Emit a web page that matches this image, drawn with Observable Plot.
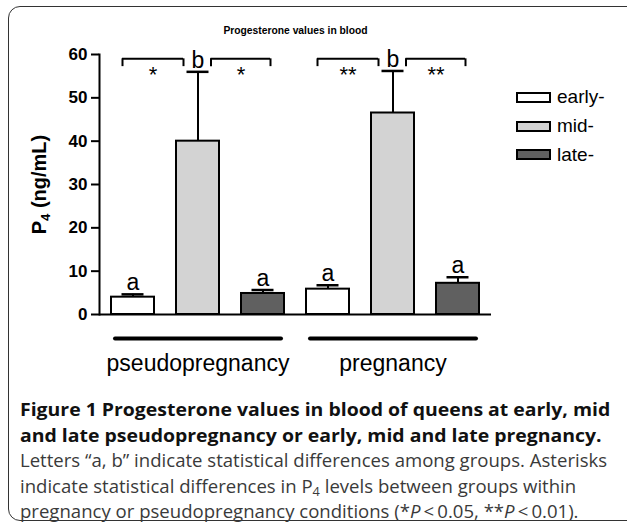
<!DOCTYPE html>
<html><head><meta charset="utf-8">
<script src="https://cdn.jsdelivr.net/npm/d3@7"></script>
<script src="https://cdn.jsdelivr.net/npm/@observablehq/plot@0.6"></script>
<style>
html,body{margin:0;padding:0;background:#fff;}
body{width:627px;height:526px;position:relative;overflow:hidden;}
#frame{position:absolute;left:8px;top:6px;width:660px;height:515px;border:1.5px solid #333;border-radius:12px;box-sizing:border-box;}
#chart{position:absolute;left:0;top:0;}
#legend{position:absolute;left:516px;top:83px;font-family:"Liberation Sans",Arial,sans-serif;font-size:19px;color:#000;}
#legend .item{display:flex;align-items:center;height:28.8px;}
#legend .sw{width:35px;height:11px;border:2px solid #000;box-sizing:border-box;margin-right:6px;}
#caption{position:absolute;left:20px;top:397px;font-family:"Open Sans",sans-serif;font-size:17.5px;line-height:25.5px;white-space:nowrap;color:#3a3a3a;}
#caption .ln{display:block;height:25.5px;transform-origin:0 50%;}
#caption .bold{font-weight:bold;color:#111;transform:scaleX(1.11);}
#caption .reg{transform:scaleX(1.061);}
#caption sub{font-size:12px;line-height:0;vertical-align:baseline;position:relative;top:0.3em;}
</style>
</head><body>
<div id="frame"></div>
<div id="chart"></div>
<div id="legend"></div>
<div id="caption"></div>
<script>
// ---- data ----
const title = "Progesterone values in blood";
const groups = ["pseudopregnancy", "pregnancy"];
const stages = ["early", "mid", "late"];
const stageLabels = ["early-", "mid-", "late-"];
const stageFills = ["#ffffff", "#d3d3d3", "#606060"];
const pseudoMeans = [4.0, 40.0, 4.85];
const pseudoErrs = [0.65, 16.0, 0.8];
const pregMeans = [5.85, 46.5, 7.2];
const pregErrs = [0.9, 9.7, 1.4];
const pseudoLetters = ["a", "b", "a"];
const pregLetters = ["a", "b", "a"];
const yTicks = [0, 10, 20, 30, 40, 50, 60];
const brackets = [
  {group: "pseudopregnancy", from: "early", to: "mid", label: "*"},
  {group: "pseudopregnancy", from: "mid", to: "late", label: "*"},
  {group: "pregnancy", from: "early", to: "mid", label: "**"},
  {group: "pregnancy", from: "mid", to: "late", label: "**"}
];

// ---- build table ----
const key = (g, s) => g + "|" + s;
const means = [pseudoMeans, pregMeans], errs = [pseudoErrs, pregErrs], letters = [pseudoLetters, pregLetters];
const rows = [];
groups.forEach((g, gi) => stages.forEach((s, si) => rows.push({
  group: g, stage: s, key: key(g, s), value: means[gi][si], top: means[gi][si] + errs[gi][si], letter: letters[gi][si]
})));
const brL = brackets.filter(b => b.from === "early");
const brR = brackets.filter(b => b.from === "mid");
const bracketY = 59, legY = 57.2;
const yLabel = "P4 (ng/mL)";

const chart = Plot.plot({
  width: 627, height: 390,
  marginLeft: 99, marginRight: 136, marginTop: 54, marginBottom: 76,
  style: {fontFamily: "'Liberation Sans', Arial, sans-serif", background: "transparent", color: "#000", overflow: "visible"},
  x: {domain: rows.map(d => d.key), paddingInner: 0.34, paddingOuter: 0.17, axis: null},
  y: {domain: [0, 60], axis: null},
  color: {domain: stages, range: stageFills},
  marks: [
    Plot.axisY({ticks: yTicks, tickSize: 8, tickPadding: 4, fontSize: 17, fontWeight: "bold", strokeWidth: 2, label: null}),
    Plot.frame({anchor: "left", strokeWidth: 2}),
    Plot.barY(rows, {x: "key", y: "value", fill: "stage", stroke: "#000", strokeWidth: 2}),
    Plot.ruleX(rows, {x: "key", y1: "value", y2: "top", strokeWidth: 2}),
    Plot.tickY(rows, {x: "key", y: "top", strokeWidth: 2.5, insetLeft: 10.5, insetRight: 10.5}),
    Plot.text(rows, {x: "key", y: "top", text: "letter", lineAnchor: "bottom", dy: -4, fontSize: 23}),
    Plot.ruleY([0], {strokeWidth: 2}),
    // significance brackets
    Plot.ruleY(brL, {x1: d => key(d.group, d.from), x2: d => key(d.group, d.to), y: bracketY, strokeWidth: 2, insetLeft: 11, insetRight: 36}),
    Plot.ruleY(brR, {x1: d => key(d.group, d.from), x2: d => key(d.group, d.to), y: bracketY, strokeWidth: 2, insetLeft: 34.5, insetRight: 14}),
    Plot.ruleX(brL, {x: d => key(d.group, d.from), y1: bracketY, y2: legY, dx: -10.5, strokeWidth: 2}),
    Plot.ruleX(brL, {x: d => key(d.group, d.to), y1: bracketY, y2: legY, dx: -14.5, strokeWidth: 2}),
    Plot.ruleX(brR, {x: d => key(d.group, d.from), y1: bracketY, y2: legY, dx: 13, strokeWidth: 2}),
    Plot.ruleX(brR, {x: d => key(d.group, d.to), y1: bracketY, y2: legY, dx: 7.5, strokeWidth: 2}),
    Plot.text(brL, {x: d => key(d.group, d.from), y: bracketY, text: "label", dx: 20, dy: 23, lineAnchor: "bottom", fontSize: 22}),
    Plot.text(brR, {x: d => key(d.group, d.from), y: bracketY, text: "label", dx: 43, dy: 23, lineAnchor: "bottom", fontSize: 22}),
    // group underline + labels
    Plot.ruleY(groups, {x1: g => key(g, "early"), x2: g => key(g, "late"), y: 0, dy: 24, strokeWidth: 4, strokeLinecap: "round", insetLeft: 4, insetRight: 3}),
    Plot.text(groups, {x: g => key(g, "mid"), y: 0, dy: 56, text: d => d, lineAnchor: "bottom", fontSize: 23}),
    // title + y label
    Plot.text([title], {frameAnchor: "top", dy: -24, text: d => d, fontWeight: "bold", fontSize: 10.3, lineAnchor: "middle"}),
    Plot.text([yLabel], {frameAnchor: "left", dx: -60, rotate: -90, text: d => d, fontWeight: "bold", fontSize: 20, lineAnchor: "middle", textAnchor: "middle"})
  ]
});
document.getElementById("chart").appendChild(chart);

// subscript in y label
chart.querySelectorAll("text").forEach(t => {
  if (t.textContent === yLabel) {
    t.textContent = "";
    t.setAttribute("text-anchor", "middle");
    const ns = "http://www.w3.org/2000/svg";
    const a = document.createElementNS(ns, "tspan"); a.textContent = "P"; t.appendChild(a);
    const b = document.createElementNS(ns, "tspan"); b.textContent = "4"; b.setAttribute("font-size", "13"); b.setAttribute("baseline-shift", "-4"); t.appendChild(b);
    const c = document.createElementNS(ns, "tspan"); c.textContent = " (ng/mL)"; t.appendChild(c);
  }
});

// legend
const lg = document.getElementById("legend");
stages.forEach((s, i) => {
  const it = document.createElement("div"); it.className = "item";
  const sw = document.createElement("div"); sw.className = "sw"; sw.style.background = stageFills[i];
  const tx = document.createElement("span"); tx.textContent = stageLabels[i];
  it.appendChild(sw); it.appendChild(tx); lg.appendChild(it);
});

// caption
document.getElementById("caption").innerHTML =
  '<span class="ln bold">Figure 1 Progesterone values in blood of queens at early, mid</span>' +
  '<span class="ln bold">and late pseudopregnancy or early, mid and late pregnancy.</span>' +
  '<span class="ln reg">Letters \u201ca, b\u201d indicate statistical differences among groups. Asterisks</span>' +
  '<span class="ln reg">indicate statistical differences in P<sub>4</sub> levels between groups within</span>' +
  '<span class="ln reg">pregnancy or pseudopregnancy conditions (*<i>P</i>\u2009&lt;\u20090.05, **<i>P</i>\u2009&lt;\u20090.01).</span>';
</script>
</body></html>
